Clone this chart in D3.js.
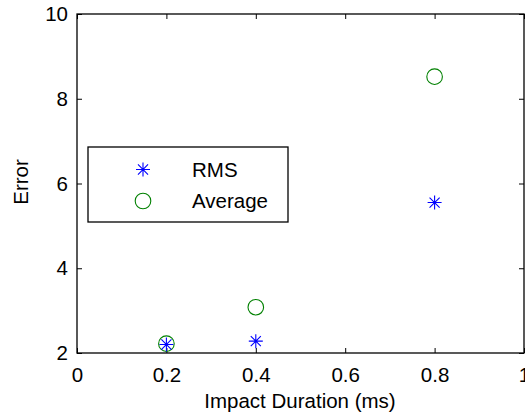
<!DOCTYPE html>
<html><head><meta charset="utf-8">
<script src="https://cdn.jsdelivr.net/npm/d3@7"></script>
<style>html,body{margin:0;padding:0;background:#fff;overflow:hidden}</style>
</head><body>
<svg id="c" width="525" height="415"></svg>
<script>
const durations = [0.2, 0.4, 0.8];
const rmsValues = [2.2, 2.28, 5.55];
const avgValues = [2.22, 3.08, 8.52];
const xTicks = [0, 0.2, 0.4, 0.6, 0.8, 1];
const yTicks = [2, 4, 6, 8, 10];
const seriesNames = ["RMS", "Average"];

const svg = d3.select("#c");
const font = "Liberation Sans, Arial, Helvetica, sans-serif";
const fs = 20.5;
const L = 77, R = 524, T = 14, B = 353;
const x = d3.scaleLinear().domain([0, 1]).range([L, R]);
const y = d3.scaleLinear().domain([2, 10]).range([B, T]);

svg.append("rect").attr("width", 525).attr("height", 415).attr("fill", "#fff");

const tl = 5;
const fmt = d => d3.format("")(d);
const bx = svg.append("g").attr("transform", `translate(0,${B})`)
  .call(d3.axisBottom(x).tickValues(xTicks).tickFormat(fmt).tickSizeInner(-tl).tickSizeOuter(0).tickPadding(14));
const tx = svg.append("g").attr("transform", `translate(0,${T})`)
  .call(d3.axisTop(x).tickValues(xTicks).tickFormat("").tickSizeInner(-tl).tickSizeOuter(0));
const ly = svg.append("g").attr("transform", `translate(${L},0)`)
  .call(d3.axisLeft(y).tickValues(yTicks).tickFormat(fmt).tickSizeInner(-tl).tickSizeOuter(0).tickPadding(9));
const ry = svg.append("g").attr("transform", `translate(${R},0)`)
  .call(d3.axisRight(y).tickValues(yTicks).tickFormat("").tickSizeInner(-tl).tickSizeOuter(0));
[bx, tx, ly, ry].forEach(g => {
  g.select(".domain").remove();
  g.selectAll("line").attr("stroke", "#000").attr("stroke-width", 1);
  g.selectAll("text").attr("font-family", font).attr("font-size", fs).attr("fill", "#000");
});
svg.append("rect").attr("x", L).attr("y", T).attr("width", R - L).attr("height", B - T)
  .attr("fill", "none").attr("stroke", "#000").attr("stroke-width", 1.3);

svg.append("text").attr("x", 300).attr("y", 408).attr("text-anchor", "middle")
  .attr("font-family", font).attr("font-size", fs).text("Impact Duration (ms)");
svg.append("text").attr("transform", `translate(28,182) rotate(-90)`).attr("text-anchor", "middle")
  .attr("font-family", font).attr("font-size", fs).text("Error");

const blue = "#0000ff", green = "#008000";
function star(g, cx, cy, s) {
  const d = s * 0.72;
  const p = `M${cx - s},${cy}L${cx + s},${cy}M${cx},${cy - s}L${cx},${cy + s}` +
    `M${cx - d},${cy - d}L${cx + d},${cy + d}M${cx - d},${cy + d}L${cx + d},${cy - d}`;
  g.append("path").attr("d", p).attr("stroke", blue).attr("stroke-width", 1.1).attr("fill", "none");
}
const marks = svg.append("g");
durations.forEach((dd, i) => {
  marks.append("circle").attr("cx", x(dd)).attr("cy", y(avgValues[i])).attr("r", 7.8)
    .attr("fill", "none").attr("stroke", green).attr("stroke-width", 1.1);
});
durations.forEach((dd, i) => star(marks, x(dd), y(rmsValues[i]), 7));

const lg = svg.append("g");
lg.append("rect").attr("x", 88).attr("y", 147).attr("width", 200).attr("height", 75)
  .attr("fill", "#fff").attr("stroke", "#000").attr("stroke-width", 1.3);
star(lg, 143, 169.5, 7);
lg.append("circle").attr("cx", 143).attr("cy", 201).attr("r", 7.8)
  .attr("fill", "none").attr("stroke", green).attr("stroke-width", 1.1);
seriesNames.forEach((n, i) => {
  lg.append("text").attr("x", 192).attr("y", [177, 208][i]).attr("font-family", font)
    .attr("font-size", fs).text(n);
});
</script>
</body></html>
